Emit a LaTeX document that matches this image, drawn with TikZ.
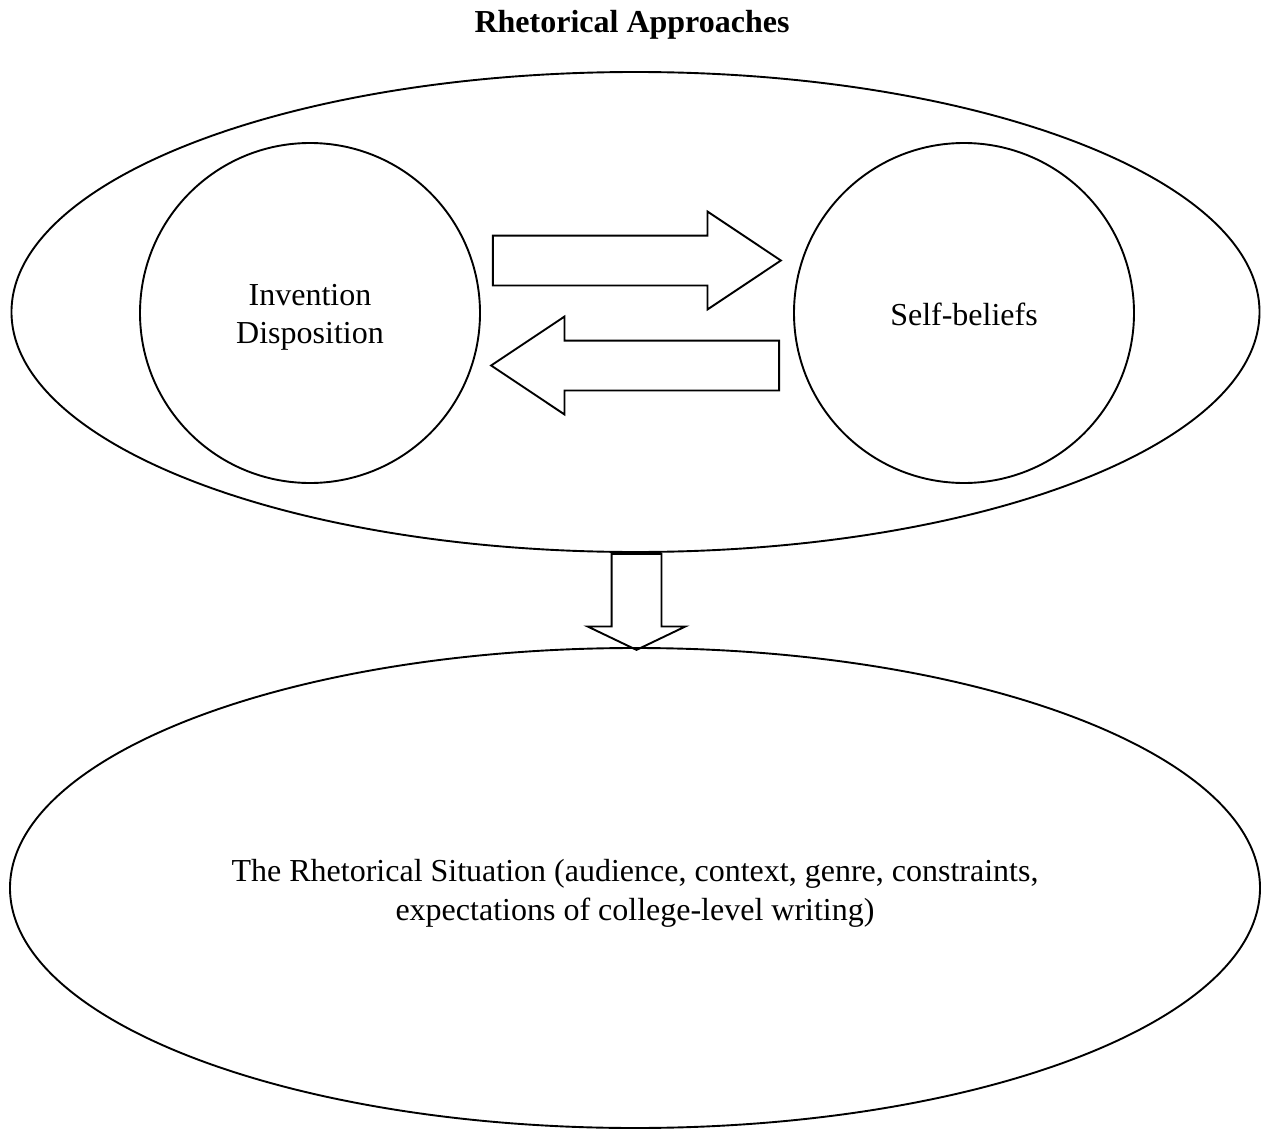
\documentclass[tikz,border=0pt]{standalone}
\usepackage{fontspec}
\setmainfont{Liberation Serif}
\usetikzlibrary{shapes.geometric,shapes.arrows,calc}
\tikzset{
  base/.style={draw=black,line width=1.9pt,inner sep=0pt,align=center,font=\fontsize{32}{38}\selectfont},
  sink/.style={execute at begin node={\rule{0pt}{#1}}},
  outer/.style={base,ellipse},
  inner/.style={base,circle,minimum size=340pt},
  block/.style={draw=black,line width=1.9pt,single arrow,inner xsep=0pt,inner ysep=24pt,single arrow head extend=24pt,anchor=tail},
  side/.style={block,single arrow tip angle=67.4,minimum height=288pt},
  drop/.style={block,single arrow tip angle=128.8,minimum height=96pt},
  title/.style={font=\fontsize{32}{38}\selectfont\bfseries}
}

\begin{document}
\begin{tikzpicture}[x=1pt,y=-1pt]
\useasboundingbox (0,0) rectangle (1262,1129);

\node[title] (head) at (632,25) {Rhetorical Approaches};

\node[outer,minimum width=1248pt,minimum height=480pt] (top) at (635.5,312) {};
\node[inner,sink=67pt] (inv) at (310,313) {Invention\\Disposition};
\node[inner,sink=26pt] (self) at (964,313) {Self-beliefs};

\node[side] (fwd) at ($(inv.east)+(11,-52.5)$) {};
\node[side,rotate=180] (back) at ($(self.west)+(-13,52.5)$) {};

\node[drop,rotate=-90] (down) at ($(top.south)+(1,0)$) {};

\node[outer,sink=71pt,font=\fontsize{32}{39}\selectfont,minimum width=1250pt,minimum height=480pt] (sit) at (635,888) {The Rhetorical Situation (audience, context, genre, constraints,\\expectations of college-level writing)};
\end{tikzpicture}
\end{document}
